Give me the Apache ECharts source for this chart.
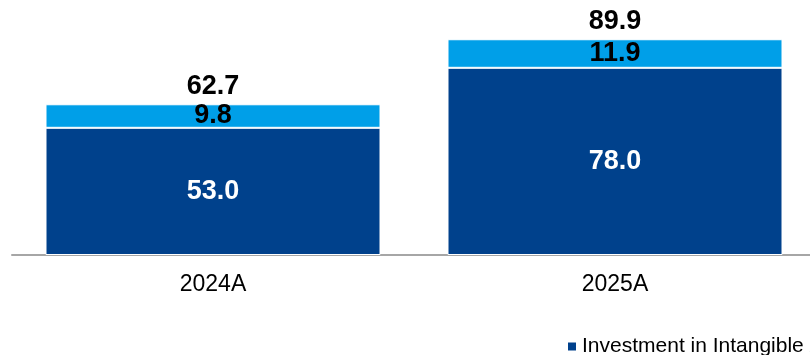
<!DOCTYPE html>
<html>
<head>
<meta charset="utf-8">
<script src="https://cdn.jsdelivr.net/npm/echarts@6/dist/echarts.min.js"></script>
<style>
html,body{margin:0;padding:0;background:#fff;overflow:hidden;}
#c{width:816px;height:355px;}
</style>
</head>
<body>
<div id="c"></div>
<script>
const categories = ['2024A', '2025A'];
const intangible = [53.0, 78.0];
const other = [9.8, 11.9];
const totals = [62.7, 89.9];
const seriesNames = ['Investment in Intangible Assets', 'Other Investments'];

const chart = echarts.init(document.getElementById('c'), null, {renderer: 'canvas'});
const font = 'Liberation Sans, Arial, sans-serif';
chart.setOption({
  animation: false,
  backgroundColor: '#ffffff',
  legend: {
    data: seriesNames,
    left: 561,
    top: 331,
    itemWidth: 10,
    itemHeight: 10,
    itemGap: 30,
    icon: 'rect',
    textStyle: {fontFamily: font, fontSize: 21, color: '#000'}
  },
  grid: {left: 12, right: 0, top: 15, bottom: 100, containLabel: false},
  xAxis: {
    type: 'category',
    data: categories,
    axisLine: {show: true, lineStyle: {color: '#a6a6a6', width: 2}},
    axisTick: {show: false},
    axisLabel: {fontFamily: font, fontSize: 23, color: '#000', margin: 18}
  },
  yAxis: {
    type: 'value',
    min: 0,
    max: 100,
    show: false,
    splitLine: {show: false}
  },
  series: [
    {
      name: seriesNames[0],
      type: 'bar',
      stack: 'a',
      data: intangible,
      barWidth: 335,
      itemStyle: {color: '#00418C', borderColor: '#ffffff', borderWidth: 1},
      label: {
        show: true, position: 'inside', color: '#fff',
        fontFamily: font, fontSize: 27, fontWeight: 'bold',
        formatter: p => p.value.toFixed(1)
      }
    },
    {
      name: seriesNames[1],
      type: 'bar',
      stack: 'a',
      data: other,
      barWidth: 335,
      itemStyle: {color: '#009FE8', borderColor: '#ffffff', borderWidth: 1},
      label: {
        show: true, position: 'inside', color: '#000',
        fontFamily: font, fontSize: 27, fontWeight: 'bold',
        formatter: p => p.value.toFixed(1)
      }
    },
    {
      name: 'Total',
      type: 'line',
      data: totals,
      symbol: 'circle',
      symbolSize: 1,
      showSymbol: true,
      itemStyle: {color: 'rgba(0,0,0,0)'},
      lineStyle: {opacity: 0},
      silent: true,
      label: {
        show: true, position: 'top', distance: 4, color: '#000',
        fontFamily: font, fontSize: 27, fontWeight: 'bold',
        formatter: p => p.value.toFixed(1)
      }
    }
  ]
});
</script>
</body>
</html>
